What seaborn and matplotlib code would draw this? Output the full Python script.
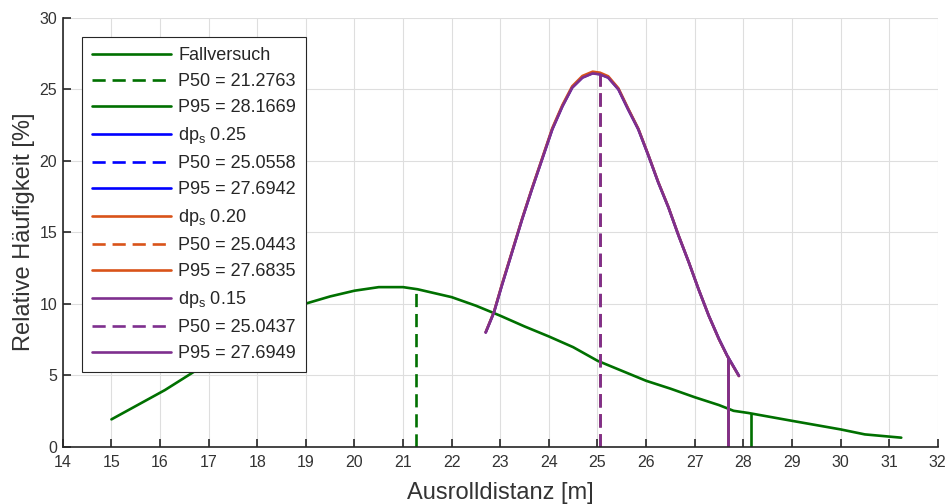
import numpy as np
import pandas as pd
import matplotlib
matplotlib.use("Agg")
import matplotlib.pyplot as plt
import seaborn as sns

# ---- data ----
fall_x = [15.0, 16.1, 16.8, 17.5, 18.0, 18.5, 19.0, 19.5, 20.0, 20.5, 21.0, 21.3, 22.0,
          22.5, 23.0, 23.5, 24.0, 24.5, 25.0, 25.5, 26.0, 26.5, 27.0, 27.5, 27.8, 28.1,
          29.0, 30.0, 30.5, 31.25]
fall_y = [1.9, 3.95, 5.45, 7.3, 8.5, 9.4, 10.0, 10.5, 10.9, 11.15, 11.15, 11.0, 10.45,
          9.85, 9.15, 8.4, 7.7, 6.95, 6.0, 5.3, 4.6, 4.05, 3.45, 2.9, 2.5, 2.35,
          1.8, 1.2, 0.85, 0.62]

peak_x = [22.70, 22.87, 23.03, 23.24, 23.45, 23.65, 23.86, 24.07, 24.28, 24.48, 24.69,
          24.90, 25.05, 25.22, 25.43, 25.63, 25.84, 26.05, 26.25, 26.46, 26.67, 26.88,
          27.08, 27.29, 27.50, 27.67, 27.91]
dp25_y = [7.99, 9.39, 11.25, 13.58, 15.91, 18.0, 20.1, 22.2, 23.83, 25.12, 25.82,
          26.12, 26.05, 25.82, 25.0, 23.6, 22.2, 20.34, 18.48, 16.73, 14.74, 12.88,
          11.0, 9.15, 7.52, 6.35, 4.95]
dp20_y = [8.0, 9.42, 11.3, 13.62, 15.95, 18.05, 20.15, 22.27, 23.9, 25.2, 25.92,
          26.22, 26.15, 25.9, 25.06, 23.65, 22.23, 20.36, 18.5, 16.74, 14.75, 12.88,
          11.0, 9.15, 7.5, 6.33, 4.93]
dp15_y = [7.97, 9.38, 11.23, 13.56, 15.9, 17.98, 20.08, 22.18, 23.8, 25.1, 25.8,
          26.1, 26.03, 25.8, 24.98, 23.58, 22.18, 20.33, 18.47, 16.72, 14.73, 12.87,
          10.99, 9.14, 7.51, 6.34, 4.94]

series_names = ["Fallversuch", "dp$_s$ 0.25", "dp$_s$ 0.20", "dp$_s$ 0.15"]
p50_vals = [21.2763, 25.0558, 25.0443, 25.0437]
p95_vals = [28.1669, 27.6942, 27.6835, 27.6949]

colors = ["#007000", "#0000FF", "#D95319", "#7E2F8E"]

sns.set_theme(style="white")
plt.rcParams['font.family'] = ['Liberation Sans', 'DejaVu Sans']
plt.rcParams['mathtext.fontset'] = 'custom'
plt.rcParams['mathtext.rm'] = 'Liberation Sans'
plt.rcParams['mathtext.it'] = 'Liberation Sans'

fig, ax = plt.subplots(figsize=(9.52, 5.04), dpi=100)
fig.subplots_adjust(left=0.066, right=0.985, top=0.965, bottom=0.114)

xs_list = [fall_x, peak_x, peak_x, peak_x]
ys_list = [fall_y, dp25_y, dp20_y, dp15_y]
lw = 1.9
dash = (5, 2.6)

for i in range(4):
    df = pd.DataFrame({"x": xs_list[i], "y": ys_list[i]})
    sns.lineplot(data=df, x="x", y="y", ax=ax, color=colors[i], lw=lw,
                 label=series_names[i], sort=False, estimator=None)
    h50 = float(np.interp(p50_vals[i], xs_list[i], ys_list[i]))
    ax.plot([p50_vals[i], p50_vals[i]], [0, h50], color=colors[i], lw=lw,
            dashes=dash, label=f"P50 = {p50_vals[i]:.4f}")
    h95 = float(np.interp(p95_vals[i], xs_list[i], ys_list[i]))
    ax.plot([p95_vals[i], p95_vals[i]], [0, h95], color=colors[i], lw=lw,
            label=f"P95 = {p95_vals[i]:.4f}")

ax.set_xlim(14, 32)
ax.set_ylim(0, 30)
ax.set_xticks(np.arange(14, 33, 1))
ax.set_yticks(np.arange(0, 31, 5))
ax.grid(True, color="#dedede", lw=0.8)
ax.set_axisbelow(True)
for s in ["top", "right"]:
    ax.spines[s].set_visible(False)
for s in ["left", "bottom"]:
    ax.spines[s].set_color("#262626")
    ax.spines[s].set_linewidth(1.2)
ax.tick_params(direction="in", length=6, width=1.2, color="#262626",
               labelsize=11.5, labelcolor="#333333", left=True, bottom=True, pad=4)
ax.tick_params(axis="x", pad=6)
ax.set_xlabel("Ausrolldistanz [m]", fontsize=17, color="#333333", labelpad=9)
ax.set_ylabel("Relative Häufigkeit [%]", fontsize=17, color="#333333", labelpad=3)

leg = ax.legend(loc="upper left", bbox_to_anchor=(0.0217, 0.9545), fontsize=13,
                handlelength=4.4, handletextpad=0.4, labelspacing=0.5,
                frameon=True, fancybox=False, borderpad=0.55, borderaxespad=0.0)
leg.get_frame().set_edgecolor("#262626")
leg.get_frame().set_linewidth(0.8)
leg.get_frame().set_alpha(1)
for t in leg.get_texts():
    t.set_color("#262626")

fig.savefig("out.png", dpi=100)
